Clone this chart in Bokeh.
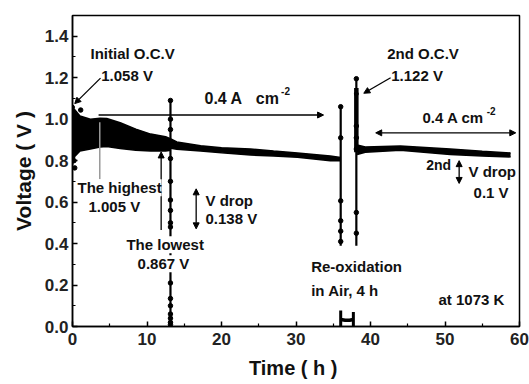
from bokeh.plotting import figure
from bokeh.models import (Range1d, FixedTicker, Label, Arrow, NormalHead,
                          CustomJSTickFormatter)
from bokeh.embed import file_html
from bokeh.resources import INLINE

# ---- cell voltage record at 1073 K ---------------------------------------
# first period at 0.4 A cm-2: envelope of the oscillating voltage (h, V)
t_run1 = [0.0, 0.3, 1.0, 2.4, 3.7, 4.6, 6.4, 8.5, 10.5, 12.5, 13.2]
v_run1_hi = [1.058, 1.045, 1.015, 1.0, 1.005, 1.003, 0.983, 0.952, 0.928, 0.915, 0.905]
v_run1_lo = [0.78, 0.82, 0.846, 0.856, 0.866, 0.868, 0.858, 0.85, 0.847, 0.847, 0.85]

# continued load after the 13 h disturbance
t_run2 = [13.2, 14.0, 17.2, 20.0, 23.9, 27.0, 30.2, 34.6, 36.0]
v_run2_hi = [0.905, 0.89, 0.872, 0.862, 0.856, 0.846, 0.837, 0.822, 0.815]
v_run2_lo = [0.86, 0.855, 0.847, 0.838, 0.827, 0.822, 0.816, 0.80, 0.80]

# second load period after re-oxidation
t_run3 = [38.2, 39.3, 44.0, 50.7, 55.0, 58.8]
v_run3_hi = [0.875, 0.866, 0.87, 0.856, 0.845, 0.837]
v_run3_lo = [0.83, 0.84, 0.85, 0.83, 0.822, 0.818]

# vertical excursions (interruptions / open circuit)
spike_t = [13.15, 36.0, 38.1]
spike_lo = [0.0, 0.39, 0.39]
spike_hi = [1.09, 1.06, 1.195]
spike_dense_lo = [0.84]
spike_dense_hi = [1.15]

# single logged points along the excursions
pts_t = [13.15] * 16 + [36.0] * 6 + [38.1] * 6 + [0.3, 0.2, 1.1]
pts_v = ([1.09, 1.0, 0.95, 0.81, 0.70, 0.61, 0.56, 0.50, 0.48, 0.21, 0.135, 0.10,
          0.06, 0.04, 0.02, 0.01]
         + [1.06, 0.91, 0.606, 0.51, 0.46, 0.41]
         + [1.195, 0.967, 0.91, 0.856, 0.55, 0.45]
         + [0.765, 0.80, 1.044])

# re-oxidation in air (36-38 h)
reox_t = [36.0, 36.6, 37.2, 37.7]
reox_v = [0.034, 0.030, 0.030, 0.034]
reox_leg_t = [36.0, 37.7]
reox_leg_hi = [0.077, 0.07]

# open-circuit voltages
ocv_t = [0.0, 38.1]
ocv_v = [1.058, 1.122]

# highest / lowest voltage in the first period
v_highest_t = 3.66
v_highest = 1.005
v_lowest = 0.867

x_ticks = [0, 10, 20, 30, 40, 50, 60]
y_ticks = [0.0, 0.2, 0.4, 0.6, 0.8, 1.0, 1.2, 1.4]

FONT = "Liberation Sans"

p = figure(width=529, height=384, output_backend="svg", toolbar_location=None,
           x_range=Range1d(0, 60), y_range=Range1d(0, 1.5),
           min_border_left=72, min_border_right=10, min_border_top=15,
           min_border_bottom=58)
p.background_fill_color = "white"
p.border_fill_color = "white"
p.outline_line_color = "black"
p.outline_line_width = 1.5
p.xgrid.visible = False
p.ygrid.visible = False

p.xaxis.ticker = FixedTicker(ticks=x_ticks, minor_ticks=[5, 15, 25, 35, 45, 55])
p.yaxis.ticker = FixedTicker(ticks=y_ticks,
                             minor_ticks=[0.1, 0.3, 0.5, 0.7, 0.9, 1.1, 1.3, 1.5])
p.yaxis.formatter = CustomJSTickFormatter(code="return tick.toFixed(1);")
p.xaxis.formatter = CustomJSTickFormatter(code="return tick.toFixed(0);")

for ax in (p.xaxis[0], p.yaxis[0]):
    ax.axis_line_color = "black"
    ax.axis_line_width = 1.5
    ax.major_tick_in = 5
    ax.major_tick_out = 0
    ax.minor_tick_in = 3
    ax.minor_tick_out = 0
    ax.major_tick_line_width = 1.5
    ax.minor_tick_line_width = 1.2
    ax.major_label_text_font = FONT
    ax.major_label_text_font_style = "bold"
    ax.major_label_text_font_size = "17px"
    ax.major_label_text_color = "#222222"
    ax.axis_label_text_font = FONT
    ax.axis_label_text_font_style = "bold"
    ax.axis_label_text_color = "#111111"

p.xaxis.axis_label = "Time ( h  )"
p.yaxis.axis_label = "Voltage ( V )"
p.xaxis.axis_label_text_font_size = "20px"
p.yaxis.axis_label_text_font_size = "21px"
p.xaxis.major_label_standoff = 6
p.yaxis.major_label_standoff = 4
p.xaxis.axis_label_standoff = 9
p.yaxis.axis_label_standoff = 7

# voltage bands
for t, hi, lo in ((t_run1, v_run1_hi, v_run1_lo),
                  (t_run2, v_run2_hi, v_run2_lo),
                  (t_run3, v_run3_hi, v_run3_lo)):
    p.varea(x=t, y1=lo, y2=hi, fill_color="black")
    p.line(t, hi, line_color="black", line_width=1.5)
    p.line(t, lo, line_color="black", line_width=1.5)

# excursions
p.segment(x0=spike_t, y0=spike_lo, x1=spike_t, y1=spike_hi,
          line_color="black", line_width=2.2)
p.segment(x0=spike_t[2:], y0=spike_dense_lo, x1=spike_t[2:], y1=spike_dense_hi,
          line_color="black", line_width=4.5)
p.scatter(pts_t, pts_v, size=4.5, color="black")

# re-oxidation
p.line(reox_t, reox_v, line_color="black", line_width=3.5)
p.segment(x0=reox_leg_t, y0=[0.0, 0.0], x1=reox_leg_t, y1=reox_leg_hi,
          line_color="black", line_width=3)
p.scatter(ocv_t, ocv_v, size=4, color="black")

# highest-voltage marker
p.segment(x0=[v_highest_t], y0=[0.71], x1=[v_highest_t], y1=[v_highest - 0.02],
          line_color="#999999", line_width=1.5)


def head():
    return NormalHead(size=6, fill_color="black", line_color="black", line_width=1)


arrows = [
    (3.76, 1.198, 0.3, 1.075, False),   # initial OCV pointer
    (3.5, 1.02, 33.7, 1.02, False),     # 0.4 A cm-2 span
    (11.9, 0.466, 11.9, v_lowest - 0.025, False),
    (16.6, 0.471, 16.6, 0.664, True),   # V drop
    (42.7, 1.20, 39.1, 1.125, False),   # second OCV pointer
    (40.7, 0.934, 59.5, 0.934, True),   # second 0.4 A cm-2 span
    (51.9, 0.69, 51.9, 0.80, True),     # second V drop
]
for x0, y0, x1, y1, both in arrows:
    p.add_layout(Arrow(x_start=x0, y_start=y0, x_end=x1, y_end=y1,
                       end=head(), start=head() if both else None,
                       line_color="black", line_width=1.3))


def label(x, y, text, size="15px", align="left", bg=None):
    kw = dict(x=x, y=y, text=text, text_font=FONT, text_font_style="bold",
              text_font_size=size, text_align=align, text_baseline="middle",
              text_color="#111111")
    if bg:
        kw.update(background_fill_color=bg)
    p.add_layout(Label(**kw))


label(2.42, 1.318, "Initial O.C.V")
label(3.85, 1.212, "1.058 V")
label(17.72, 1.101, "0.4 A", size="16px")
label(24.6, 1.101, "cm", size="16px")
label(28.0, 1.135, "-2", size="10px")
label(0.67, 0.669, "The highest", bg="white")
label(2.15, 0.577, "1.005 V")
label(17.85, 0.606, "V drop")
label(17.85, 0.519, "0.138 V")
label(12.44, 0.394, "The lowest", align="center", bg="white")
label(12.2, 0.303, "0.867 V", align="center", bg="white")
label(32.04, 0.289, "Re-oxidation")
label(32.04, 0.173, "in Air, 4 h")
label(49.13, 0.130, "at 1073 K")
label(42.24, 1.316, "2nd O.C.V")
label(42.78, 1.212, "1.122 V")
label(46.98, 1.010, "0.4 A cm")
label(55.6, 1.039, "-2", size="10px")
label(47.48, 0.777, "2nd", size="14px")
label(53.15, 0.746, "V drop")
label(53.83, 0.645, "0.1 V")

open("out.html", "w").write(file_html(p, INLINE))
